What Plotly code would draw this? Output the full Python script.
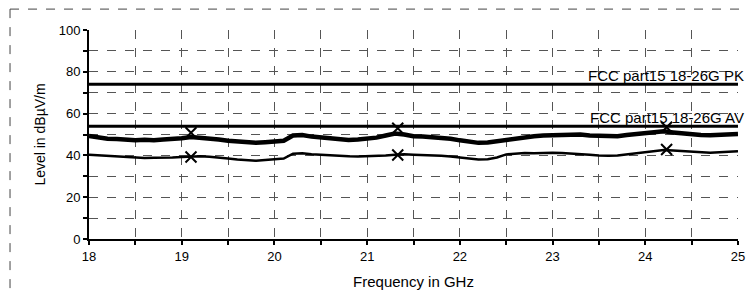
import plotly.graph_objects as go

freq = [round(18.0 + 0.1 * i, 1) for i in range(71)]
pk = [49.3, 48.5, 48.0, 47.8, 47.5, 47.3, 47.5, 47.2, 47.6, 47.8,
      48.2, 48.8, 48.5, 48.0, 47.6, 47.0, 46.5, 46.2, 46.0, 46.3,
      46.5, 47.0, 49.5, 49.8, 49.0, 48.5, 48.2, 47.8, 47.4, 47.6,
      47.8, 48.5, 49.5, 50.5, 50.0, 49.2, 49.0, 48.8, 48.5, 48.0,
      47.2, 46.5, 46.0, 46.2, 46.8, 47.8, 48.5, 48.8, 49.2, 49.5,
      49.7, 49.8, 49.8, 50.0, 49.5, 49.3, 49.0, 49.2, 49.8, 50.3,
      50.8, 51.2, 51.5, 51.0, 50.5, 50.2, 49.8, 49.6, 49.8, 50.0,
      50.2]
av = [40.3, 40.0, 39.8, 39.5, 39.3, 39.0, 38.8, 38.9, 38.8, 39.0,
      39.2, 39.5, 39.6, 39.3, 39.0, 38.5, 38.0, 37.6, 37.5, 37.8,
      38.0, 38.5, 40.8, 41.0, 40.5, 40.2, 40.0, 39.8, 39.6, 39.5,
      39.6, 39.8, 40.0, 40.3, 40.5, 40.3, 40.2, 40.0, 39.8, 39.5,
      39.0, 38.5, 38.0, 38.2, 39.0, 40.5, 41.0, 41.2, 41.0, 41.2,
      41.3, 41.2, 41.0, 40.8, 40.3, 40.0, 39.8, 40.0, 40.5, 41.2,
      41.8, 42.3, 42.6, 42.3, 42.0, 41.8, 41.5, 41.3, 41.5, 41.8,
      42.0]

pk_mark_f = [19.1, 21.33, 24.23]
pk_mark_v = [50.8, 53.0, 53.5]
av_mark_f = [19.1, 21.33, 24.23]
av_mark_v = [39.2, 40.2, 42.8]

limit_f = [18, 25]
limit_pk = [74, 74]
limit_av = [54, 54]
limit_names = ["FCC part15 18-26G PK", "FCC part15 18-26G AV"]

FONT = "Liberation Sans, Arial"

fig = go.Figure()
fig.add_trace(go.Scatter(x=limit_f, y=limit_pk, mode="lines",
                         line=dict(color="black", width=3), showlegend=False))
fig.add_trace(go.Scatter(x=limit_f, y=limit_av, mode="lines",
                         line=dict(color="black", width=3), showlegend=False))
fig.add_trace(go.Scatter(x=freq, y=pk, mode="lines",
                         line=dict(color="black", width=4.5), showlegend=False))
fig.add_trace(go.Scatter(x=freq, y=av, mode="lines",
                         line=dict(color="black", width=2.5), showlegend=False))
fig.add_trace(go.Scatter(x=pk_mark_f, y=pk_mark_v, mode="markers",
                         marker=dict(symbol="x-thin", size=11, color="black",
                                     line=dict(width=2, color="black")),
                         showlegend=False))
fig.add_trace(go.Scatter(x=av_mark_f, y=av_mark_v, mode="markers",
                         marker=dict(symbol="x-thin", size=11, color="black",
                                     line=dict(width=2, color="black")),
                         showlegend=False))

for name, lv in zip(limit_names, [limit_pk[0], limit_av[0]]):
    fig.add_annotation(x=25, y=lv, text=name, showarrow=False,
                       xanchor="right", yanchor="bottom", xshift=8, yshift=-2,
                       font=dict(family=FONT, size=15, color="black"))

# outer dashed frame of the scanned sheet
fig.add_shape(type="line", xref="paper", yref="paper",
              x0=-0.1217, x1=1.03, y0=1.100, y1=1.100,
              line=dict(color="#444", width=1, dash="dash"))
fig.add_shape(type="line", xref="paper", yref="paper",
              x0=-0.1217, x1=-0.1217, y0=1.100, y1=-0.27,
              line=dict(color="#444", width=1, dash="dash"))

fig.update_layout(
    width=746, height=285,
    margin=dict(l=81, r=16, t=22, b=54, autoexpand=False),
    paper_bgcolor="white", plot_bgcolor="white",
    font=dict(family=FONT, size=13, color="black"),
    xaxis=dict(range=[18, 25], dtick=1, tick0=18, automargin=False,
               showline=True, linecolor="black", linewidth=2,
               ticks="outside", ticklen=4, tickcolor="black", tickwidth=2,
               showgrid=True, gridcolor="#555", griddash="dash", gridwidth=1,
               minor=dict(dtick=0.5, showgrid=True, gridcolor="#555", griddash="dash",
                          ticks="outside", ticklen=4, tickcolor="black", tickwidth=2),
               zeroline=False,
               title=dict(text="Frequency in GHz", font=dict(size=15), standoff=14),
               tickfont=dict(size=13)),
    yaxis=dict(range=[0, 100], dtick=20, tick0=0, automargin=False,
               showline=True, linecolor="black", linewidth=2,
               ticks="outside", ticklen=4, tickcolor="black", tickwidth=2,
               showgrid=True, gridcolor="#555", griddash="dash", gridwidth=1,
               minor=dict(dtick=10, showgrid=True, gridcolor="#555", griddash="dash",
                          ticks="outside", ticklen=4, tickcolor="black", tickwidth=2),
               zeroline=False,
               title=dict(text="Level in dBµV/m", font=dict(size=14), standoff=10),
               tickfont=dict(size=13)),
)

fig.write_html("out.html")
